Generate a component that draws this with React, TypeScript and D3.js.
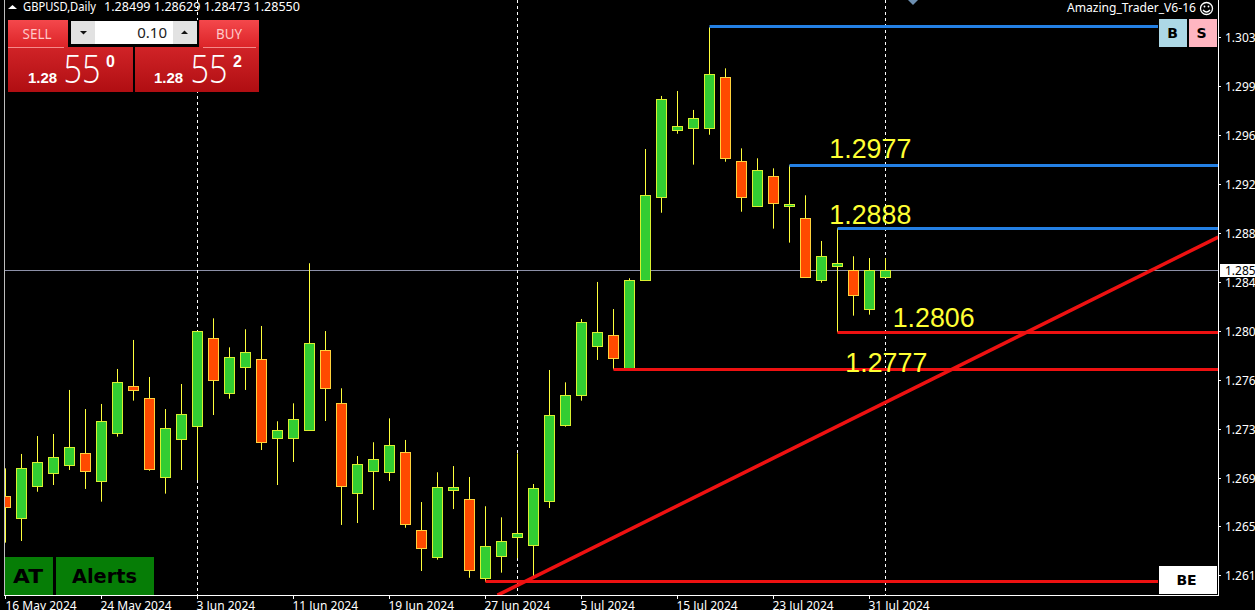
import React from "react";
import * as d3 from "d3";

const W = 1255, H = 610;
const candleOpen = [1.26772,1.26602,1.26851,1.26956,1.27016,1.27113,1.2689,1.27267,1.2764,1.27545,1.26921,1.2722,1.27322,1.28017,1.27582,1.27786,1.27852,1.27228,1.27228,1.27291,1.27923,1.27506,1.26796,1.26969,1.26961,1.27121,1.26508,1.26293,1.26819,1.26752,1.26128,1.263,1.2645,1.26387,1.26733,1.2733,1.27566,1.27951,1.28041,1.27778,1.28473,1.29122,1.29652,1.29665,1.29665,1.30069,1.29408,1.29051,1.2929,1.29055,1.2896,1.2847,1.2858,1.28552,1.28242,1.28493];
const candleHigh = [1.26995,1.27108,1.27249,1.27265,1.27611,1.27461,1.27501,1.27776,1.28004,1.27713,1.27461,1.27658,1.28072,1.28174,1.27946,1.28088,1.28114,1.27365,1.27506,1.28607,1.28074,1.27624,1.27092,1.272,1.27388,1.27218,1.2673,1.26964,1.27013,1.26927,1.26697,1.2661,1.27113,1.26872,1.27768,1.27671,1.28169,1.2846,1.28247,1.28489,1.29505,1.29922,1.29961,1.29812,1.30462,1.30139,1.2951,1.29432,1.29353,1.29377,1.29141,1.28782,1.28882,1.28662,1.28648,1.28648];
const candleLow = [1.26411,1.26424,1.26811,1.26864,1.26982,1.26833,1.26733,1.27244,1.27527,1.26976,1.26796,1.26982,1.26903,1.27414,1.27542,1.27611,1.27139,1.26864,1.27045,1.27291,1.27367,1.2655,1.26565,1.26668,1.26895,1.26528,1.26188,1.26277,1.26675,1.26135,1.26104,1.26175,1.26288,1.26143,1.26683,1.27322,1.27527,1.27847,1.27773,1.27778,1.28473,1.29004,1.29625,1.29382,1.29617,1.29405,1.29012,1.29051,1.28879,1.28769,1.28497,1.28454,1.28064,1.28195,1.28203,1.28493];
const candleClose = [1.26691,1.26995,1.27042,1.27082,1.2716,1.26969,1.27365,1.27671,1.27605,1.26984,1.2731,1.2742,1.28072,1.27684,1.27868,1.27907,1.27196,1.27294,1.2738,1.27978,1.27621,1.26851,1.27027,1.27066,1.27176,1.26552,1.26363,1.26846,1.26848,1.26194,1.26382,1.26422,1.26484,1.26838,1.27412,1.27566,1.28143,1.28064,1.27857,1.28473,1.29141,1.29896,1.29683,1.29746,1.30092,1.29432,1.29122,1.29338,1.29075,1.2907,1.28497,1.28662,1.28607,1.28352,1.28552,1.2855];

const priceTickLabels = ["1.3038","1.2999","1.2961","1.2923","1.2884","1.2846","1.2807","1.2769","1.2730","1.2692","1.2653","1.2615"];
const priceTicks = [1.30385,1.29999,1.29614,1.29229,1.28844,1.28459,1.28074,1.27689,1.27304,1.26919,1.26534,1.26149];
const dateLabels = ["16 May 2024","24 May 2024","3 Jun 2024","11 Jun 2024","19 Jun 2024","27 Jun 2024","5 Jul 2024","15 Jul 2024","23 Jul 2024","31 Jul 2024"];
const dateTickIndex = [0,6,12,18,24,30,36,42,48,54];
const separatorIndex = [12,32,55];
const annotations = [
  { text: "1.2977", i: 51.49, price: 1.29434 },
  { text: "1.2888", i: 51.49, price: 1.28913 },
  { text: "1.2806", i: 55.45, price: 1.28102 },
  { text: "1.2777", i: 52.49, price: 1.2775 },
];
const blueLevels = [
  { price: 1.30464, from: 44, stop: 1158 },
  { price: 1.29377, from: 49, stop: 1218 },
  { price: 1.28882, from: 52, stop: 1218 },
];
const redLevels = [
  { price: 1.28064, from: 52, stop: 1218 },
  { price: 1.27773, from: 38, stop: 1218 },
  { price: 1.26104, from: 30, stop: 1158 },
];
const trendFrom = { i: 30.75, price: 1.25998 };
const trendTo = { i: 75.8, price: 1.28813 };
const lastPrice = 1.2855;

const x = d3.scaleLinear().domain([0, 1]).range([5.5, 21.5]);
const y = d3.scaleLinear().domain([1.2855, 1.2855 - 0.0000786 * 100]).range([270.5, 370.5]);
const snap = (v: number) => Math.floor(v) + 0.5;
const UI = "'Liberation Sans', Arial, sans-serif";
const NOTO = "'Noto Sans', sans-serif";
const DEJA = "'DejaVu Sans', sans-serif";
const YEL = "#ffff3c";

export default function App() {
  const trend = d3.line<{ i: number; price: number }>().x(d => x(d.i)).y(d => y(d.price));
  return (
    <svg width={W} height={H} style={{ position: "absolute", left: 0, top: 0, display: "block", background: "#000" }} fontFamily={UI}>
      <defs>
        <clipPath id="plot"><rect x={5} y={0} width={1213} height={595} /></clipPath>
        <linearGradient id="redTop" x1="0" y1="0" x2="0" y2="1"><stop offset="0" stopColor="#f4484c" /><stop offset="1" stopColor="#dc2428" /></linearGradient>
        <linearGradient id="redBot" x1="0" y1="0" x2="0" y2="1"><stop offset="0" stopColor="#e43034" /><stop offset="1" stopColor="#b00e12" /></linearGradient>
      </defs>

      {/* frame */}
      <line x1={4.5} x2={4.5} y1={0} y2={595} stroke="#bdbdbd" />
      <line x1={4} x2={1219} y1={595.5} y2={595.5} stroke="#fff" />
      <line x1={1218.5} x2={1218.5} y1={0} y2={596} stroke="#fff" />

      <g clipPath="url(#plot)">
        {/* current price and separators */}
        <line x1={5} x2={1218} y1={snap(y(lastPrice))} y2={snap(y(lastPrice))} stroke="#8c90a8" />
        {separatorIndex.map(i => (
          <line key={i} x1={x(i)} x2={x(i)} y1={0} y2={595} stroke="#fff" strokeDasharray="3 3" />
        ))}

        {/* candles */}
        {candleOpen.map((o, i) => {
          const c = candleClose[i];
          const top = snap(y(Math.max(o, c)));
          const bot = snap(y(Math.min(o, c)));
          return (
            <g key={i}>
              <line x1={x(i)} x2={x(i)} y1={y(candleHigh[i])} y2={y(candleLow[i])} stroke={YEL} />
              <rect x={x(i) - 5} y={top} width={10} height={Math.max(bot - top, 2)} fill={c >= o ? "#32cd32" : "#ff4a00"} stroke={c >= o ? "#d8f030" : "#ffd23c"} />
            </g>
          );
        })}

        {/* levels */}
        {blueLevels.map(l => (
          <line key={l.price} x1={x(l.from)} x2={l.stop} y1={snap(y(l.price))} y2={snap(y(l.price))} stroke="#2480e4" strokeWidth={3} />
        ))}
        {redLevels.map(l => (
          <line key={l.price} x1={x(l.from)} x2={l.stop} y1={snap(y(l.price))} y2={snap(y(l.price))} stroke="#ee1111" strokeWidth={3} />
        ))}
        <path d={trend([trendFrom, trendTo]) ?? ""} stroke="#ee1111" strokeWidth={3.5} fill="none" />

        {annotations.map(a => (
          <text key={a.text} x={x(a.i)} y={y(a.price)} fill="#ffff33" fontSize={26.8}>{a.text}</text>
        ))}
      </g>

      {/* header */}
      <path d="M8 9 L12.5 5 L17 9 Z" fill="#fff" />
      <text x={23} y={11} fill="#fff" fontSize={12} fontFamily={NOTO} textLength={73} lengthAdjust="spacingAndGlyphs">GBPUSD,Daily</text>
      <text x={104} y={11} fill="#fff" fontSize={12} fontFamily={NOTO} textLength={196} lengthAdjust="spacingAndGlyphs">1.28499 1.28629 1.28473 1.28550</text>
      <text x={1196} y={12} textAnchor="end" fill="#fff" fontSize={12} fontFamily={NOTO} textLength={129} lengthAdjust="spacingAndGlyphs">Amazing_Trader_V6-16</text>
      <g fill="none" stroke="#fff" strokeWidth={1.3}>
        <circle cx={1206.5} cy={8.5} r={6} />
        <path d="M1203 10 Q1206.5 14 1210 10" />
      </g>
      <circle cx={1204.5} cy={6.5} r={0.9} fill="#fff" />
      <circle cx={1208.5} cy={6.5} r={0.9} fill="#fff" />
      <path d="M908 0 L918 0 L913 5 Z" fill="#6d8fb0" />

      {/* trade panel */}
      <rect x={8} y={20} width={125} height={72} fill="url(#redBot)" />
      <rect x={135} y={20} width={124} height={72} fill="url(#redBot)" />
      <rect x={8} y={20} width={61} height={27} fill="url(#redTop)" />
      <rect x={200} y={20} width={59} height={27} fill="url(#redTop)" />
      <line x1={8} x2={64} y1={47.5} y2={47.5} stroke="#f58a8a" />
      <line x1={203} x2={256} y1={47.5} y2={47.5} stroke="#f58a8a" />
      <rect x={68} y={20} width={131} height={27} fill="#000" />
      <rect x={71} y={21} width={126} height={23} fill="#fff" />
      <rect x={71} y={21} width={24} height={23} fill="#e2e2e2" />
      <rect x={173} y={21} width={24} height={23} fill="#e2e2e2" />
      <path d="M80 31 L87 31 L83.5 34.5 Z" fill="#111" />
      <path d="M181 34 L188 34 L184.5 30.5 Z" fill="#111" />
      <text x={167} y={38} textAnchor="end" fontSize={15} fill="#222" fontFamily={NOTO}>0.10</text>
      <text x={37} y={39} textAnchor="middle" fontSize={15} fill="#ffc8c8" fontFamily={NOTO} textLength={29} lengthAdjust="spacingAndGlyphs">SELL</text>
      <text x={229} y={39} textAnchor="middle" fontSize={15} fill="#ffc8c8" fontFamily={NOTO} textLength={26} lengthAdjust="spacingAndGlyphs">BUY</text>
      <text x={28} y={83} fontSize={15} fontWeight="bold" fill="#fff">1.28</text>
      <text x={63.5} y={83} fontSize={38} fontWeight={300} fill="#fff" fontFamily="'Open Sans', sans-serif" textLength={37} lengthAdjust="spacingAndGlyphs">55</text>
      <text x={106} y={67} fontSize={16} fontWeight="bold" fill="#fff">0</text>
      <text x={154} y={83} fontSize={15} fontWeight="bold" fill="#fff">1.28</text>
      <text x={190.5} y={83} fontSize={38} fontWeight={300} fill="#fff" fontFamily="'Open Sans', sans-serif" textLength={37} lengthAdjust="spacingAndGlyphs">55</text>
      <text x={233} y={67} fontSize={16} fontWeight="bold" fill="#fff">2</text>

      {/* buttons */}
      <rect x={1159} y={19} width={28} height={28} fill="#add8e6" />
      <rect x={1189} y={19} width={28} height={28} fill="#ffb6c1" />
      <text x={1172.5} y={38} textAnchor="middle" fontSize={14} fontWeight="bold" fill="#000" fontFamily={DEJA}>B</text>
      <text x={1201.5} y={38} textAnchor="middle" fontSize={14} fontWeight="bold" fill="#000" fontFamily={DEJA}>S</text>
      <rect x={1159} y={566} width={58} height={28} fill="#fff" />
      <text x={1186.5} y={585} textAnchor="middle" fontSize={14} fontWeight="bold" fill="#000" fontFamily={DEJA}>BE</text>
      <rect x={5} y={557} width={48} height={38} fill="#067d06" />
      <rect x={56} y={557} width={98} height={38} fill="#067d06" />
      <text x={28} y={583} textAnchor="middle" fontSize={19} fontWeight="bold" fill="#000" fontFamily={DEJA} textLength={30} lengthAdjust="spacingAndGlyphs">AT</text>
      <text x={104.5} y={583} textAnchor="middle" fontSize={19} fontWeight="bold" fill="#000" fontFamily={DEJA} textLength={65} lengthAdjust="spacingAndGlyphs">Alerts</text>

      {/* price axis */}
      {priceTicks.map((p, i) => (
        <g key={p}>
          <line x1={1218} x2={1221} y1={snap(y(p))} y2={snap(y(p))} stroke="#fff" />
          <text x={1225} y={snap(y(p)) + 4.5} fontSize={12} fill="#fff" fontFamily={NOTO}>{priceTickLabels[i]}</text>
        </g>
      ))}
      <rect x={1220} y={264} width={35} height={13} fill="#fff" />
      <text x={1225} y={275} fontSize={12} fill="#000" fontFamily={NOTO}>{lastPrice.toFixed(4)}</text>

      {/* date axis */}
      {dateLabels.map((d, i) => (
        <g key={d}>
          <line x1={x(dateTickIndex[i])} x2={x(dateTickIndex[i])} y1={595} y2={599} stroke="#fff" />
          <text x={x(dateTickIndex[i]) + (i === 0 ? 0 : -1)} y={610} fontSize={12} fill="#fff" fontFamily={NOTO}>{d}</text>
        </g>
      ))}
    </svg>
  );
}
